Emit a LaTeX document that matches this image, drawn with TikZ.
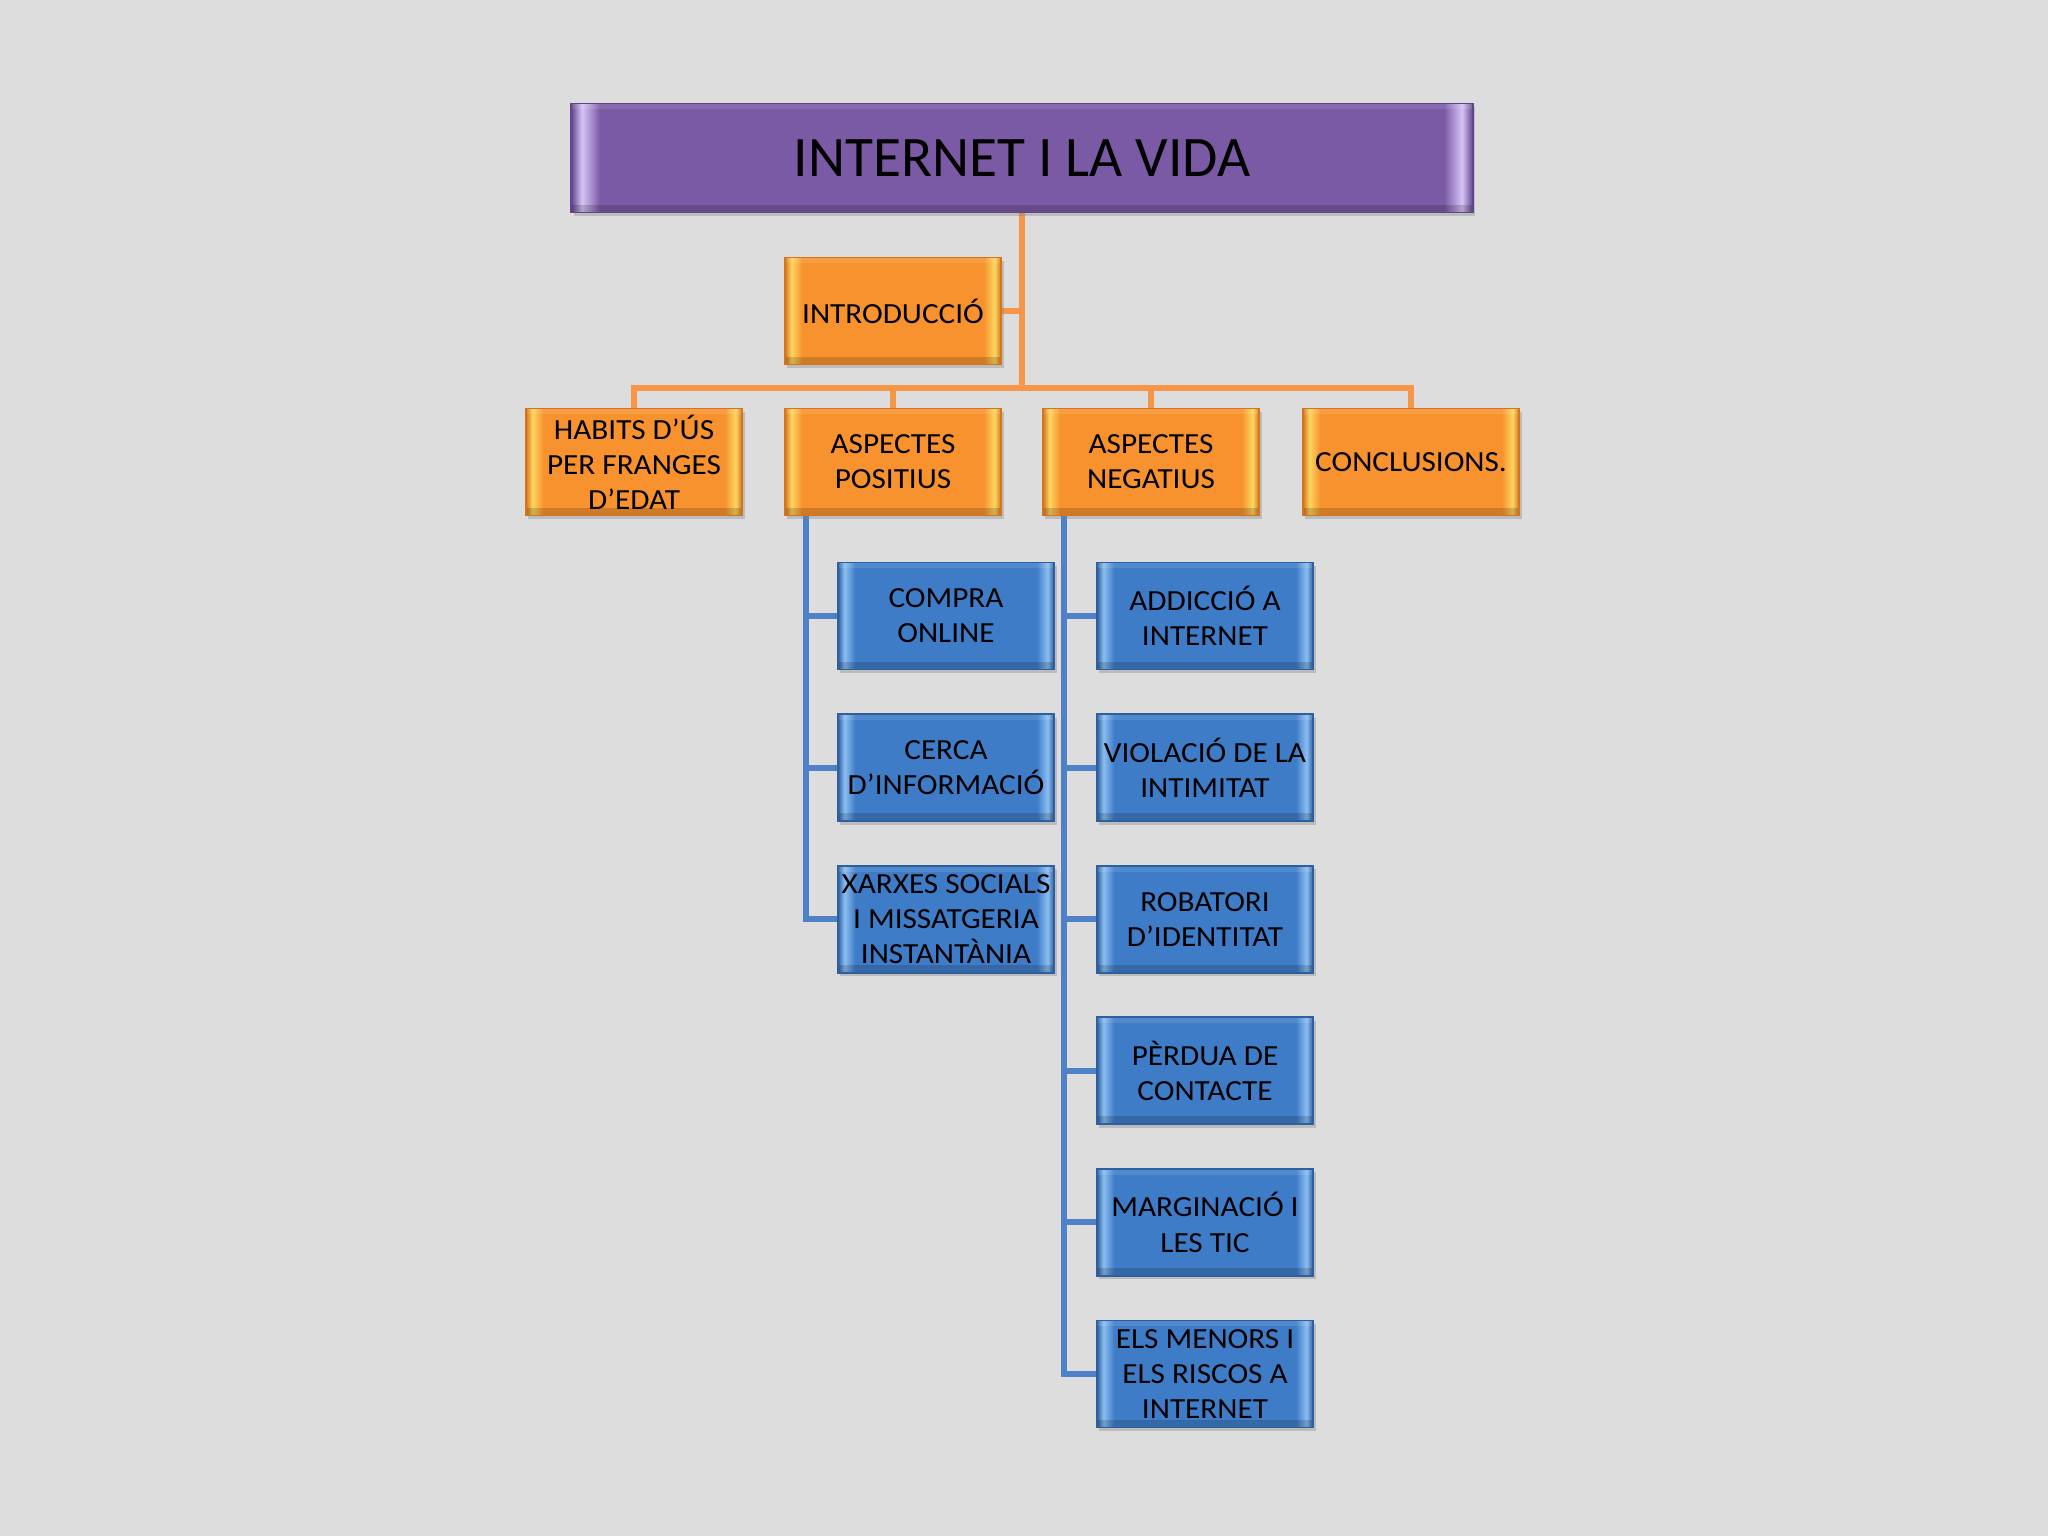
\documentclass[tikz,border=0pt]{standalone}
\usepackage{fontspec}
\setmainfont{Carlito}
\newfontfamily\boxfam[FakeStretch=1.07]{Carlito}
\usetikzlibrary{shadows,backgrounds}

\definecolor{bgGray}{RGB}{221,221,221}
\definecolor{puMain}{RGB}{122,89,165}
\definecolor{puHi}{RGB}{214,196,246}
\definecolor{puEdge}{RGB}{98,70,140}
\definecolor{orMain}{RGB}{247,146,46}
\definecolor{orHi}{RGB}{252,214,96}
\definecolor{orEdge}{RGB}{214,116,30}
\definecolor{blMain}{RGB}{62,124,200}
\definecolor{blHi}{RGB}{140,190,240}
\definecolor{blEdge}{RGB}{44,96,160}
\definecolor{orLink}{RGB}{247,150,70}
\definecolor{blLink}{RGB}{79,129,200}

\pgfdeclarehorizontalshading{purplebevel}{100bp}{color(0bp)=(puEdge); color(25bp)=(puEdge); color(25.6bp)=(puHi); color(26.6bp)=(puMain); color(73.4bp)=(puMain); color(74.4bp)=(puHi); color(75bp)=(puEdge); color(100bp)=(puEdge)}
\pgfdeclarehorizontalshading{orangebevel}{100bp}{color(0bp)=(orEdge); color(25bp)=(orEdge); color(26.5bp)=(orHi); color(29bp)=(orMain); color(71bp)=(orMain); color(73.5bp)=(orHi); color(75bp)=(orEdge); color(100bp)=(orEdge)}
\pgfdeclarehorizontalshading{bluebevel}{100bp}{color(0bp)=(blEdge); color(25bp)=(blEdge); color(26.5bp)=(blHi); color(29bp)=(blMain); color(71bp)=(blMain); color(73.5bp)=(blHi); color(75bp)=(blEdge); color(100bp)=(blEdge)}

\newcommand{\boxfont}{\boxfam\fontsize{8.3}{10}\selectfont}
\newcommand{\titlefont}{\fontsize{16.3}{20}\selectfont}

\tikzset{
  bevel/.style={minimum width=2.16cm, minimum height=1.07cm, inner sep=1pt,
    align=center, font=\boxfont, text=black, draw=#1, line width=0.5pt,
    drop shadow={shadow xshift=0.025cm, shadow yshift=-0.035cm, opacity=0.35},
    path picture={
      \fill[black,opacity=0.16] (path picture bounding box.south west) rectangle ([yshift=0.08cm]path picture bounding box.south east);
      \fill[white,opacity=0.10] (path picture bounding box.north west) rectangle ([yshift=-0.06cm]path picture bounding box.north east);
    }},
  titlebox/.style={bevel=puEdge, shading=purplebevel, minimum width=9.01cm, minimum height=1.09cm, font=\titlefont},
  orbox/.style={bevel=orEdge, shading=orangebevel},
  blbox/.style={bevel=blEdge, shading=bluebevel},
  orlink/.style={orLink, line width=1.5pt},
  bllink/.style={blLink, line width=1.7pt},
}

\begin{document}
\begin{tikzpicture}[x=0.01cm,y=-0.01cm]
  \useasboundingbox (0,0) rectangle (2048,1536);

  % top and first level
  \node[titlebox] (title) at (1022,158) {INTERNET I LA VIDA};
  \node[orbox] (intro) at (893,311) {INTRODUCCIÓ};

  \node[orbox] (habits) at (634,462) {HABITS D’ÚS\\PER FRANGES\\D’EDAT};
  \node[orbox] (pos) at (893,462) {ASPECTES\\POSITIUS};
  \node[orbox] (neg) at (1151,462) {ASPECTES\\NEGATIUS};
  \node[orbox] (concl) at (1411,462) {CONCLUSIONS.};

  % positive aspects
  \foreach \i/\txt in {1/{COMPRA\\ONLINE},2/{CERCA\\D’INFORMACIÓ},3/{XARXES SOCIALS\\I MISSATGERIA\\INSTANTÀNIA}}
    \node[blbox] (p\i) at (946,{616+151.6*(\i-1)}) {\txt};

  % negative aspects
  \foreach \i/\txt in {1/{ADDICCIÓ A\\INTERNET},2/{VIOLACIÓ DE LA\\INTIMITAT},3/{ROBATORI\\D’IDENTITAT},
      4/{PÈRDUA DE\\CONTACTE},5/{MARGINACIÓ I\\LES TIC},6/{ELS MENORS I\\ELS RISCOS A\\INTERNET}}
    \node[blbox] (n\i) at (1205,{616+151.6*(\i-1)}) {\txt};

  \coordinate (bar) at (1021,388);
  \coordinate (pspine) at ([xshift=0.22cm]pos.south west);
  \coordinate (nspine) at ([xshift=0.22cm]neg.south west);

  \begin{scope}[on background layer]
    \fill[bgGray] (0,0) rectangle (2048,1536);
    % orange connectors
    \draw[orlink] (title.south) -- (title.south |- bar);
    \draw[orlink] (intro.east) -- (intro.east -| title.south);
    \draw[orlink] (habits.north) -- (habits.north |- bar) -- (concl.north |- bar) -- (concl.north);
    \draw[orlink] (pos.north) -- (pos.north |- bar);
    \draw[orlink] (neg.north) -- (neg.north |- bar);
    % blue connectors
    \draw[bllink] (pspine) |- (p3.west);
    \foreach \i in {1,2}
      \draw[bllink] (pspine |- p\i.west) -- (p\i.west);
    \draw[bllink] (nspine) |- (n6.west);
    \foreach \i in {1,...,5}
      \draw[bllink] (nspine |- n\i.west) -- (n\i.west);
  \end{scope}
\end{tikzpicture}
\end{document}
